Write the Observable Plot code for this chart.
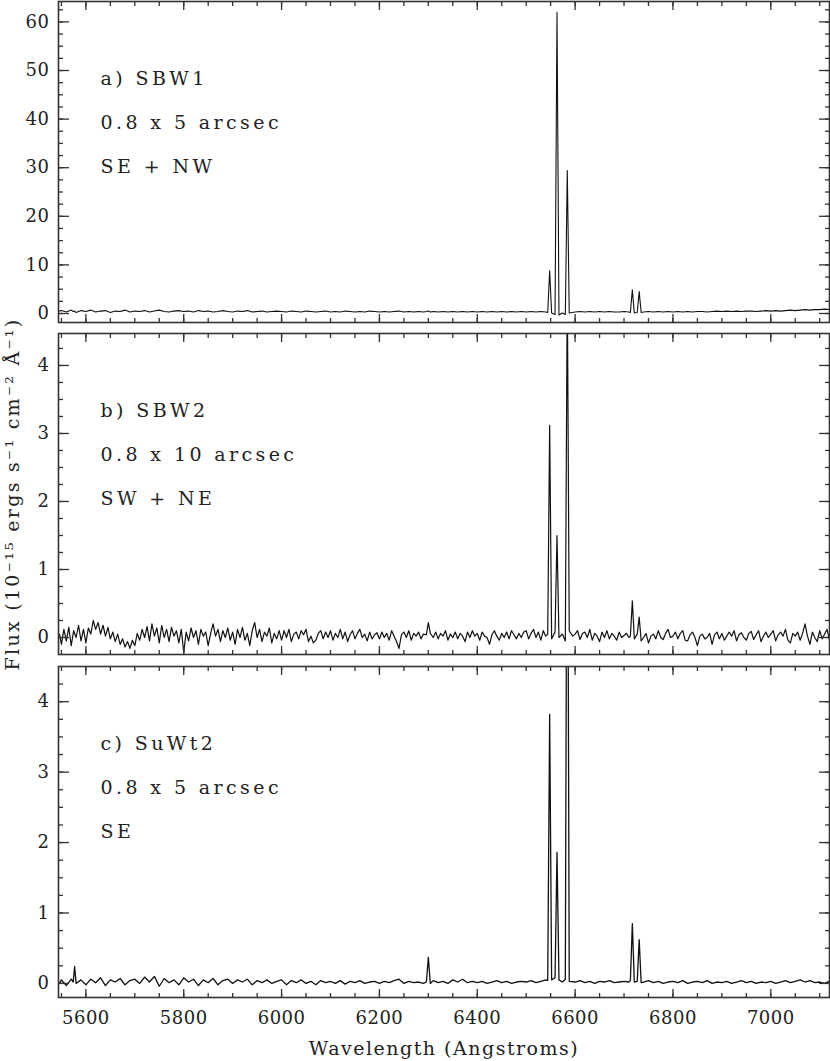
<!DOCTYPE html>
<html>
<head>
<meta charset="utf-8">
<script src="https://cdn.jsdelivr.net/npm/d3@7"></script>
<script src="https://cdn.jsdelivr.net/npm/@observablehq/plot@0.6"></script>
<style>
  html, body { margin: 0; padding: 0; background: #fff; }
  #chart { position: relative; width: 830px; height: 1061px; overflow: hidden; font-family: "DejaVu Serif", serif; }
  #chart > div { position: absolute; left: 0; }
</style>
</head>
<body>
<div id="chart"></div>
<script>
// Wavelength samples (Angstroms) for panels a and c
const wavelength = [
  5546,5550,5560,5570,5574,5577,5580,5590,
  5600,5610,5620,5630,5640,5650,5660,5670,5680,5690,
  5700,5710,5720,5730,5740,5750,5760,5770,5780,5790,
  5800,5810,5820,5830,5840,5850,5860,5870,5880,5890,
  5900,5910,5920,5930,5940,5950,5960,5970,5980,5990,
  6000,6010,6020,6030,6040,6050,6060,6070,6080,6090,
  6100,6110,6120,6130,6140,6150,6160,6170,6180,6190,
  6200,6210,6220,6230,6240,6250,6260,6270,6280,6290,
  6296,6300,6304,6310,6320,6330,6340,6350,6360,6370,6380,6390,
  6400,6410,6420,6430,6440,6450,6460,6470,6480,6490,
  6500,6510,6520,6530,6540,6544,6548,6552,6559,6563,6567,6574,6580,6584,6588,
  6600,6610,6620,6630,6640,6650,6660,6670,6680,6690,
  6700,6710,6713,6717,6721,6727,6731,6735,6740,6750,6760,6770,6780,6790,
  6800,6810,6820,6830,6840,6850,6860,6870,6880,6890,
  6900,6910,6920,6930,6940,6950,6960,6970,6980,6990,
  7000,7010,7020,7030,7040,7050,7060,7070,7080,7090,
  7100,7110,7120
];

// a) SBW1 flux (1e-15 erg/s/cm2/A)
const fluxA = [
  0.5,0.6,0.3,0.7,0.4,0.5,0.2,0.6,
  0.4,0.7,0.3,0.5,0.6,0.2,0.5,0.4,0.7,0.3,
  0.5,0.4,0.6,0.3,0.5,0.7,0.4,0.3,0.5,0.6,
  0.4,0.5,0.3,0.6,0.4,0.5,0.3,0.4,0.6,0.4,
  0.3,0.5,0.4,0.6,0.3,0.4,0.5,0.3,0.4,0.5,
  0.4,0.3,0.5,0.4,0.3,0.5,0.4,0.3,0.4,0.5,
  0.3,0.4,0.3,0.5,0.4,0.3,0.4,0.3,0.5,0.4,
  0.3,0.4,0.3,0.4,0.5,0.3,0.4,0.3,0.4,0.3,
  0.4,0.5,0.3,0.4,0.3,0.4,0.3,0.4,0.3,0.4,0.3,0.4,
  0.3,0.4,0.3,0.4,0.3,0.4,0.3,0.4,0.3,0.4,
  0.3,0.4,0.3,0.4,0.3,0.2,8.8,0.1,-0.2,62,-0.3,0.1,-0.2,29.4,0.1,
  0.3,0.4,0.3,0.4,0.3,0.4,0.3,0.4,0.3,0.3,
  0.4,0.3,0.2,4.9,0.1,0.2,4.5,0.2,0.3,0.4,0.3,0.4,0.3,0.4,
  0.3,0.4,0.3,0.4,0.3,0.4,0.4,0.3,0.4,0.5,
  0.4,0.5,0.4,0.5,0.4,0.5,0.5,0.4,0.5,0.6,
  0.5,0.6,0.5,0.6,0.7,0.6,0.7,0.8,0.7,0.8,
  0.8,0.9,0.8
];

// Wavelength samples (Angstroms) for panel b (finer, noisier spectrum)
const wavelengthB = [
  5546,5550,5555,5560,5565,5570,5575,5580,5585,5590,5595,
  5600,5605,5610,5615,5620,5625,5630,5635,5640,5645,5650,5655,5660,5665,5670,5675,5680,5685,5690,5695,
  5700,5705,5710,5715,5720,5725,5730,5735,5740,5745,5750,5755,5760,5765,5770,5775,5780,5785,5790,5795,
  5800,5805,5810,5815,5820,5825,5830,5835,5840,5845,5850,5855,5860,5865,5870,5875,5880,5885,5890,5895,
  5900,5905,5910,5915,5920,5925,5930,5935,5940,5945,5950,5955,5960,5965,5970,5975,5980,5985,5990,5995,
  6000,6005,6010,6015,6020,6025,6030,6035,6040,6045,6050,6055,6060,6065,6070,6075,6080,6085,6090,6095,
  6100,6105,6110,6115,6120,6125,6130,6135,6140,6145,6150,6155,6160,6165,6170,6175,6180,6185,6190,6195,
  6200,6205,6210,6215,6220,6225,6230,6235,6240,6245,6250,6255,6260,6265,6270,6275,6280,6285,6290,
  6296,6300,6304,6310,6315,6320,6325,6330,6335,6340,6345,6350,6355,6360,6365,6370,6375,6380,6385,6390,6395,
  6400,6405,6410,6415,6420,6425,6430,6435,6440,6445,6450,6455,6460,6465,6470,6475,6480,6485,6490,6495,
  6500,6505,6510,6515,6520,6525,6530,6535,6540,6544,6548,6552,6559,6563,6567,6574,6580,6584,6588,6595,
  6600,6605,6610,6615,6620,6625,6630,6635,6640,6645,6650,6655,6660,6665,6670,6675,6680,6685,6690,6695,
  6700,6705,6710,6713,6717,6721,6727,6731,6735,6740,6745,6750,6755,6760,6765,6770,6775,6780,6785,6790,6795,
  6800,6805,6810,6815,6820,6825,6830,6835,6840,6845,6850,6855,6860,6865,6870,6875,6880,6885,6890,6895,
  6900,6905,6910,6915,6920,6925,6930,6935,6940,6945,6950,6955,6960,6965,6970,6975,6980,6985,6990,6995,
  7000,7005,7010,7015,7020,7025,7030,7035,7040,7045,7050,7055,7060,7065,7070,7075,7080,7085,7090,7095,
  7100,7105,7110,7115,7120
];

// b) SBW2 flux
const fluxB = [
  0.05,-0.1,0.12,-0.05,0.15,-0.12,0.1,0.0,0.18,-0.05,0.12,
  -0.08,0.14,0.05,0.25,0.12,0.22,0.05,0.18,0.02,0.15,-0.02,0.08,-0.06,0.05,-0.1,-0.02,-0.14,-0.06,-0.16,-0.04,
  -0.12,0.06,-0.04,0.12,0.0,0.16,-0.05,0.2,0.02,0.14,-0.08,0.18,0.0,0.12,-0.06,0.15,0.02,0.1,-0.08,0.12,
  -0.22,0.08,-0.05,0.14,0.0,0.1,-0.1,0.12,0.02,0.08,-0.12,0.06,0.2,0.02,0.12,-0.06,0.1,0.0,0.14,-0.04,
  0.08,-0.1,0.12,0.0,0.15,-0.04,0.06,-0.12,0.1,0.22,0.0,0.12,-0.06,0.08,0.02,0.14,-0.08,0.06,-0.02,0.1,
  -0.04,0.1,0.0,0.12,-0.06,0.05,0.08,-0.02,0.1,0.04,0.12,-0.06,0.02,-0.08,-0.04,0.06,0.1,-0.02,0.08,0.0,
  0.1,-0.04,0.06,0.0,0.12,-0.02,0.08,-0.06,0.04,0.1,-0.02,0.06,0.12,0.0,0.05,-0.05,0.08,-0.02,0.04,0.07,
  -0.02,0.08,0.0,0.06,-0.04,0.1,0.02,-0.06,-0.16,0.04,0.08,0.0,0.1,-0.04,0.06,0.02,0.08,-0.02,0.05,
  0.04,0.22,0.06,0.0,0.08,-0.02,0.06,0.02,0.1,-0.04,0.05,0.0,0.08,-0.02,0.06,0.02,-0.06,0.08,0.0,0.1,0.02,
  0.06,-0.04,0.08,0.02,0.0,-0.1,0.04,0.1,0.02,-0.04,0.06,0.0,0.08,-0.02,0.1,0.04,-0.02,0.06,0.0,0.08,
  0.1,-0.02,0.06,0.12,0.0,0.08,-0.04,0.1,0.02,0.05,3.12,-0.02,0.08,1.5,0.0,0.05,-0.05,5.2,0.1,0.02,
  0.05,0.1,-0.03,0.06,0.08,0.0,0.12,-0.04,0.06,0.02,-0.06,0.08,0.0,0.1,-0.02,0.06,0.02,-0.04,0.08,0.0,
  0.03,0.06,0.0,0.02,0.54,-0.02,0.05,0.3,-0.05,0.0,0.06,-0.08,0.02,0.05,-0.02,0.1,0.0,-0.03,0.06,0.12,0.0,
  0.02,0.08,-0.02,0.06,0.1,-0.04,-0.05,0.04,0.08,0.0,-0.12,0.02,0.05,-0.02,0.0,0.06,-0.1,0.04,0.08,-0.02,
  0.06,-0.04,0.02,0.08,0.02,0.1,-0.05,0.04,0.07,0.0,-0.04,0.06,0.09,-0.03,0.04,0.1,-0.06,0.02,0.08,0.0,
  0.05,0.1,-0.05,0.04,0.08,0.02,0.12,-0.04,-0.08,0.06,0.02,0.08,-0.04,0.06,0.2,0.02,-0.1,0.08,0.0,-0.06,
  0.1,-0.02,0.05,0.12,-0.04
];

// c) SuWt2 flux
const fluxC = [
  0.0,0.05,-0.03,0.06,0.02,0.24,0.0,0.05,
  -0.02,0.06,0.01,0.08,-0.03,0.05,0.02,0.07,-0.02,0.04,
  0.06,0.0,0.09,0.02,0.1,-0.04,0.07,0.01,0.05,-0.02,
  0.08,0.02,0.06,-0.03,0.05,0.01,0.07,-0.02,0.04,0.06,
  0.0,0.05,0.02,0.06,-0.02,0.04,0.01,0.05,0.0,0.03,
  0.05,-0.02,0.04,0.01,0.05,0.0,0.03,-0.02,0.04,0.01,
  0.03,0.0,0.04,-0.01,0.03,0.01,0.04,0.0,0.02,0.03,
  0.0,0.03,0.01,0.04,0.06,0.0,0.03,0.01,0.02,0.0,
  0.02,0.37,0.0,0.04,0.01,0.03,0.0,0.05,0.02,0.06,0.01,0.03,
  0.01,0.03,0.0,0.02,0.04,0.01,0.03,0.0,0.02,0.03,
  0.02,0.04,0.01,0.03,0.05,0.04,3.82,0.05,0.08,1.86,0.05,0.02,0.06,9.0,0.03,
  0.02,0.04,0.01,0.03,0.0,0.03,0.02,0.04,0.01,0.02,
  0.03,0.02,0.04,0.85,0.02,0.03,0.62,0.01,0.02,0.04,0.01,0.03,0.0,0.02,
  0.03,0.01,0.04,0.0,0.02,0.03,0.01,0.04,0.0,0.02,
  0.01,0.03,0.0,0.02,0.04,0.01,0.03,0.0,0.02,0.01,
  0.03,0.0,0.02,0.04,0.01,0.03,0.05,0.02,0.04,0.01,
  0.02,0.0,0.03
];

const labelsA = ["a) SBW1", "0.8 x 5 arcsec", "SE + NW"];
const labelsB = ["b) SBW2", "0.8 x 10 arcsec", "SW + NE"];
const labelsC = ["c) SuWt2", "0.8 x 5 arcsec", "SE"];

const xTicks = [5600, 5800, 6000, 6200, 6400, 6600, 6800, 7000];
const yTicksA = [0, 10, 20, 30, 40, 50, 60];
const yTicksBC = [0, 1, 2, 3, 4];
const xTitle = "Wavelength (Angstroms)";
const yTitle = "Flux (10⁻¹⁵ ergs s⁻¹ cm⁻² Å⁻¹)";

const xDomain = [5544, 7120];
const xMinor = d3.range(5550, 7101, 50);
const ink = "#222";
const fmt = d => String(d);

function panel(o) {
  const data = o.wave.map((w, i) => ({w, f: o.flux[i]}));
  const tk = {stroke: "#333", strokeWidth: 1.3, label: null, tickFormat: () => ""};
  const marks = [
    Plot.line(data, {x: "w", y: "f", stroke: "#111", strokeWidth: o.sw || 1.1, clip: true}),
    Plot.frame({stroke: "#333", strokeWidth: 1.6}),
    ...["bottom", "top"].flatMap(a => [
      Plot.axisX({anchor: a, ticks: xMinor, tickSize: -4, ...tk}),
      Plot.axisX({anchor: a, ticks: xTicks, tickSize: -8, ...tk})
    ]),
    ...["left", "right"].flatMap(a => [
      Plot.axisY({anchor: a, ticks: o.yMinor, tickSize: -5, ...tk}),
      Plot.axisY({anchor: a, ticks: o.yTicks, tickSize: -11, ...tk})
    ]),
    Plot.axisY({anchor: "left", ticks: o.yTicks, tickSize: 0, tickPadding: 9, tickFormat: fmt, label: null, fontSize: 18, fill: ink}),
    Plot.text([o.labels.join("\n")], {
      text: d => d, frameAnchor: "top-left", dx: 42, dy: 52,
      textAnchor: "start", lineAnchor: "top", lineHeight: 44 / 19, fontSize: 19, fill: ink
    }),
    ...(o.extra || [])
  ];
  const svg = Plot.plot({
    width: 830,
    height: o.height,
    marginLeft: 58,
    marginRight: 1,
    marginTop: o.mt,
    marginBottom: o.mb,
    x: {domain: xDomain, label: null},
    y: {domain: o.yDomain, label: null},
    style: {fontFamily: "'DejaVu Serif', serif", fontSize: "18px", color: ink, background: "transparent", overflow: "visible"},
    marks
  });
  d3.select(svg).selectAll("g[aria-label='text'] text").style("letter-spacing", "3.4px");
  d3.select(svg).selectAll("g[aria-label='y-axis tick label'] text, g[aria-label='x-axis tick label'] text").style("letter-spacing", "0.5px");
  const wrap = document.createElement("div");
  wrap.style.top = o.top + "px";
  wrap.appendChild(svg);
  return wrap;
}

const chart = document.getElementById("chart");

chart.appendChild(panel({
  wave: wavelength, flux: fluxA, labels: labelsA, yDomain: [-1.85, 64.2],
  yTicks: yTicksA, yMinor: d3.range(0, 63, 2.5),
  top: 0, height: 330, mt: 1, mb: 8
}));

const pb = panel({
  wave: wavelengthB, flux: fluxB, labels: labelsB, yDomain: [-0.25, 4.47],
  yTicks: yTicksBC, yMinor: d3.range(0, 4.3, 0.25),
  top: 325, height: 335, mt: 8, mb: 6, sw: 1.2,
  extra: [
    Plot.text([yTitle], {text: d => d, frameAnchor: "left", rotate: -90, dx: -46, fontSize: 19, fill: ink, textAnchor: "middle", lineAnchor: "middle"})
  ]
});
chart.appendChild(pb);
d3.select(pb).selectAll("g[aria-label='text'] text").filter(function(){ return this.textContent.startsWith("Flux"); }).style("letter-spacing", "2.3px");

const pc = panel({
  wave: wavelength, flux: fluxC, labels: labelsC, yDomain: [-0.2, 4.5],
  yTicks: yTicksBC, yMinor: d3.range(0, 4.3, 0.25),
  top: 658, height: 403, mt: 8, mb: 64, sw: 1.3,
  extra: [
    Plot.axisX({anchor: "bottom", ticks: xTicks, tickSize: 0, tickPadding: 14, tickFormat: fmt, label: null, fontSize: 18, fill: ink}),
    Plot.text([xTitle], {text: d => d, frameAnchor: "bottom", dy: 51, fontSize: 19, fill: ink, textAnchor: "middle", lineAnchor: "middle"})
  ]
});
chart.appendChild(pc);
d3.select(pc).selectAll("g[aria-label='text'] text").filter(function(){ return this.textContent.startsWith("Wavelength"); }).style("letter-spacing", "1.5px");
</script>
</body>
</html>
